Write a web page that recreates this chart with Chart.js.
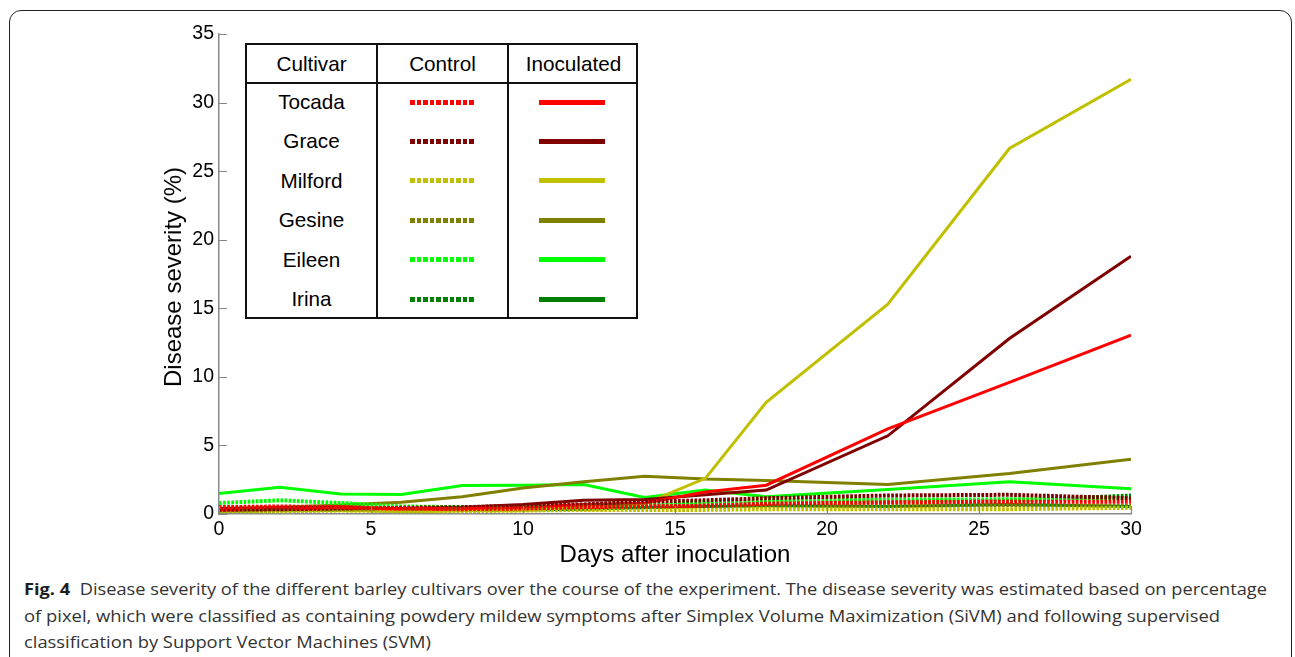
<!DOCTYPE html>
<html>
<head>
<meta charset="utf-8">
<script src="https://cdn.jsdelivr.net/npm/chart.js@4.4.1/dist/chart.umd.min.js"></script>
<style>
  html, body { margin:0; padding:0; background:#fff; width:1295px; height:657px; overflow:hidden; }
  #frame { position:absolute; left:9px; top:10px; width:1283px; height:720px; border:1.5px solid #222; border-radius:12px; box-sizing:border-box; }
  #c { position:absolute; left:0; top:0; }
  .lbl { position:absolute; font-family:"Liberation Sans", Arial, sans-serif; color:#000; white-space:nowrap; }
  #legend { position:absolute; left:245px; top:43px; width:393px; height:276px; border:2px solid #111; box-sizing:border-box; background:#fff; }
  .vline { position:absolute; top:0; bottom:0; width:2px; background:#111; }
  .hline { position:absolute; left:0; right:0; height:2px; background:#111; }
  .cell { position:absolute; font-family:"Liberation Sans", Arial, sans-serif; font-size:20.7px; color:#000; text-align:center; line-height:24px; }
  .sample { position:absolute; height:5px; }
  .cap { position:absolute; left:24px; font-family:"Open Sans", "Noto Sans", sans-serif; font-size:16.5px; line-height:20px; color:#333; white-space:nowrap; transform-origin:0 0; }
  .cap b { color:#1e1e1e; font-weight:700; }
</style>
</head>
<body>
<div id="frame"></div>
<canvas id="c" width="1295" height="575" style="width:1295px;height:575px"></canvas>
<div class="lbl" id="ytitle" style="left:173px; top:277px; font-size:24px; line-height:24px; transform:translate(-50%,-50%) rotate(-90deg);">Disease severity (%)</div>
<div class="lbl" id="xtitle" style="left:675px; top:542px; font-size:24px; line-height:24px; transform:translateX(-50%);">Days after inoculation</div>
<div id="legend"></div>
<div class="cap" id="cap1" data-w="1243" style="top:579px"><b>Fig. 4</b>&nbsp; Disease severity of the different barley cultivars over the course of the experiment. The disease severity was estimated based on percentage</div>
<div class="cap" id="cap2" data-w="1196" style="top:605.5px">of pixel, which were classified as containing powdery mildew symptoms after Simplex Volume Maximization (SiVM) and following supervised</div>
<div class="cap" id="cap3" data-w="407" style="top:632px">classification by Support Vector Machines (SVM)</div>
<script>
// ---- data ----
const days = [0, 2, 4, 6, 8, 10, 12, 14, 16, 18, 22, 26, 30];
const cultivars = ['Tocada', 'Grace', 'Milford', 'Gesine', 'Eileen', 'Irina'];

const controlTocada  = [0.5, 0.55, 0.5, 0.4, 0.35, 0.4, 0.5, 0.55, 0.6, 0.75, 0.85, 0.9, 0.9];
const controlGrace   = [0.3, 0.35, 0.4, 0.45, 0.5, 0.6, 0.7, 0.9, 1.0, 1.15, 1.35, 1.4, 1.15];
const controlMilford = [0.2, 0.2, 0.25, 0.2, 0.2, 0.25, 0.3, 0.3, 0.3, 0.35, 0.35, 0.35, 0.45];
const controlGesine  = [0.3, 0.35, 0.4, 0.35, 0.4, 0.45, 0.5, 0.55, 0.6, 0.6, 0.6, 0.65, 0.6];
const controlEileen  = [0.8, 1.0, 0.8, 0.55, 0.5, 0.5, 0.6, 0.65, 0.9, 1.0, 1.05, 1.07, 1.15];
const controlIrina   = [0.2, 0.25, 0.3, 0.35, 0.4, 0.45, 0.5, 0.6, 0.7, 0.8, 0.9, 0.95, 1.35];

const inocTocada  = [0.3, 0.35, 0.4, 0.35, 0.4, 0.5, 0.7, 0.8, 1.6, 2.1, 6.2, 9.6, 13.05];
const inocGrace   = [0.4, 0.45, 0.5, 0.4, 0.5, 0.7, 1.0, 1.05, 1.4, 1.75, 5.7, 12.8, 18.8];
const inocMilford = [0.2, 0.25, 0.3, 0.2, 0.25, 0.3, 0.5, 0.75, 2.6, 8.15, 15.3, 26.65, 31.7];
const inocGesine  = [0.4, 0.5, 0.65, 0.85, 1.25, 1.9, 2.35, 2.75, 2.55, 2.45, 2.15, 2.95, 4.0];
const inocEileen  = [1.5, 1.95, 1.45, 1.42, 2.07, 2.1, 2.15, 1.2, 1.75, 1.26, 1.78, 2.36, 1.85];
const inocIrina   = [0.2, 0.25, 0.3, 0.2, 0.25, 0.3, 0.35, 0.45, 0.55, 0.6, 0.55, 0.7, 0.55];

const yTicks = [0, 5, 10, 15, 20, 25, 30, 35];
const xTicks = [0, 5, 10, 15, 20, 25, 30];

// ---- styles ----
const colors = ['#ff0000', '#800000', '#c0c000', '#808000', '#00ff00', '#008000'];
const controlSeries = [controlTocada, controlGrace, controlMilford, controlGesine, controlEileen, controlIrina];
const inocSeries = [inocTocada, inocGrace, inocMilford, inocGesine, inocEileen, inocIrina];

const toPts = arr => days.map((d, i) => ({ x: d, y: arr[i] }));
const datasets = [];
controlSeries.forEach((s, i) => datasets.push({
  label: cultivars[i] + ' control', data: toPts(s), borderColor: colors[i],
  borderWidth: 4, borderDash: [2.7, 1.4], pointRadius: 0, tension: 0, fill: false
}));
inocSeries.forEach((s, i) => datasets.push({
  label: cultivars[i] + ' inoculated', data: toPts(s), borderColor: colors[i],
  borderWidth: 3, pointRadius: 0, tension: 0, fill: false
}));

const innerTicks = {
  id: 'innerTicks',
  afterDatasetsDraw(chart) {
    const ctx = chart.ctx, ys = chart.scales.y, xs = chart.scales.x, a = chart.chartArea;
    ctx.save();
    ctx.strokeStyle = '#888';
    ctx.lineWidth = 1.2;
    ctx.beginPath();
    yTicks.forEach(v => { const p = Math.round(ys.getPixelForValue(v)) + 0.5; ctx.moveTo(a.left, p); ctx.lineTo(a.left + 8, p); });
    xTicks.forEach(v => { const p = Math.round(xs.getPixelForValue(v)) + 0.5; ctx.moveTo(p, a.bottom); ctx.lineTo(p, a.bottom - 8); });
    ctx.stroke();
    ctx.restore();
  }
};

const tickFont = { family: '"Liberation Sans", Arial, sans-serif', size: 19.5 };
new Chart(document.getElementById('c'), {
  type: 'line',
  data: { datasets },
  options: {
    responsive: false, animation: false,
    layout: { padding: { left: 0, right: 164, top: 34, bottom: 0 } },
    plugins: { legend: { display: false }, tooltip: { enabled: false } },
    scales: {
      x: {
        type: 'linear', min: 0, max: 30,
        afterFit: s => { s.height = 61; },
        afterBuildTicks: s => { s.ticks = xTicks.map(v => ({ value: v })); },
        grid: { display: false, drawTicks: false },
        border: { display: true, color: '#888', width: 1.5 },
        ticks: { color: '#000', font: tickFont, padding: 4, maxRotation: 0 }
      },
      y: {
        type: 'linear', min: 0, max: 35,
        afterFit: s => { s.width = 219; },
        afterBuildTicks: s => { s.ticks = yTicks.map(v => ({ value: v })); },
        grid: { display: false, drawTicks: false },
        border: { display: true, color: '#888', width: 1.5 },
        ticks: { color: '#000', font: tickFont, padding: 5 }
      }
    }
  },
  plugins: [innerTicks]
});

// ---- legend table ----
const lg = document.getElementById('legend');
function add(html) { lg.insertAdjacentHTML('beforeend', html); }
add('<div class="vline" style="left:129px"></div><div class="vline" style="left:260px"></div>');
add('<div class="hline" style="top:37px"></div>');
const hdr = ['Cultivar', 'Control', 'Inoculated'];
const colL = [0, 131, 262];
hdr.forEach((h, i) => add(`<div class="cell" style="left:${colL[i]}px; width:129px; top:7px">${h}</div>`));
cultivars.forEach((name, i) => {
  const cy = 57 + i * 39.4;
  add(`<div class="cell" style="left:0; width:129px; top:${cy - 12}px">${name}</div>`);
  add(`<div class="sample" style="left:163px; width:65px; top:${cy - 2.5}px; background:repeating-linear-gradient(to right, ${colors[i]} 0 4.6px, transparent 4.6px 6.6px)"></div>`);
  add(`<div class="sample" style="left:292px; width:66px; top:${cy - 2.5}px; background:${colors[i]}"></div>`);
});

// ---- caption width fit ----
function fitCaps() {
  document.querySelectorAll('.cap').forEach(el => {
    el.style.transform = 'none';
    const w = el.getBoundingClientRect().width;
    el.style.transform = `scaleX(${(+el.dataset.w) / w})`;
  });
}
fitCaps();
window.addEventListener('load', fitCaps);
</script>
</body>
</html>
